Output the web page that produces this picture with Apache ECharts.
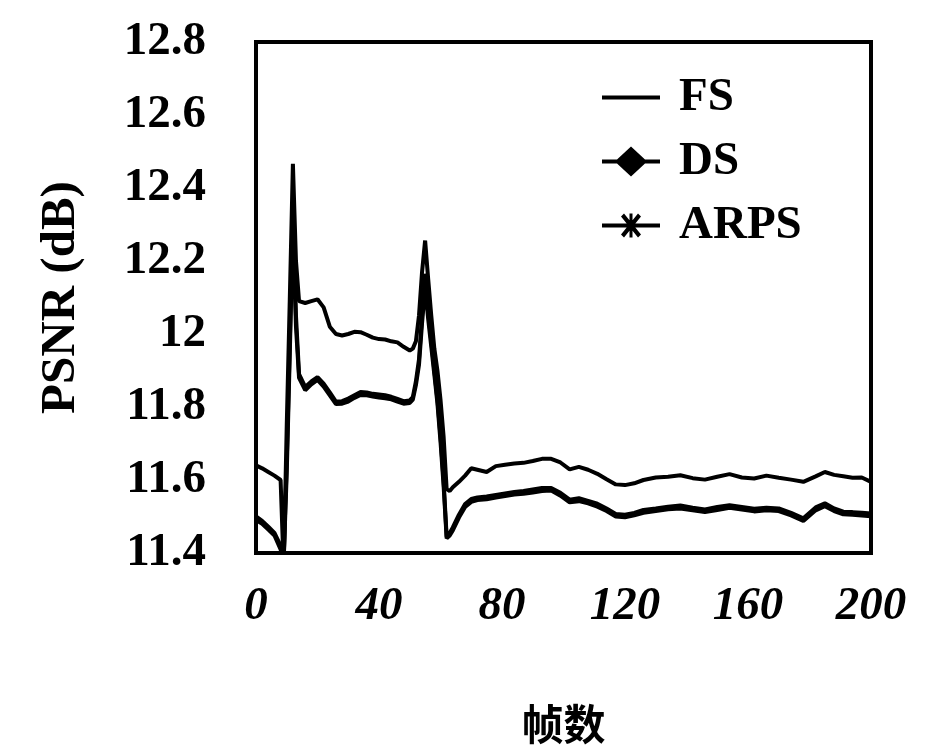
<!DOCTYPE html>
<html>
<head>
<meta charset="utf-8">
<script src="https://cdn.jsdelivr.net/npm/echarts@6/dist/echarts.min.js"></script>
<style>
html,body{margin:0;padding:0;background:#fff;}
#chart{width:925px;height:754px;}
</style>
</head>
<body>
<div id="chart"></div>
<script>
// Frame numbers (x positions of samples)
const frames = [0,2,4,6,8,9,10,11,12,13,14,16,18,20,22,24,26,28,30,32,34,36,38,40,42,44,46,48,50,51,52,53,54,55,56,57,58,59,60,61,62,63,64,66,68,70,72,75,78,81,84,87,90,93,96,99,102,105,108,111,114,117,120,123,126,130,134,138,142,146,150,154,158,162,166,170,174,178,182,185,188,191,194,197,200];

const fsValues = [11.640,11.632,11.622,11.612,11.600,11.360,11.750,12.100,12.466,12.200,12.090,12.085,12.090,12.095,12.073,12.020,12.000,11.996,12.000,12.006,12.005,11.998,11.990,11.986,11.985,11.980,11.977,11.965,11.955,11.960,11.980,12.050,12.170,12.256,12.150,12.050,11.960,11.900,11.820,11.720,11.575,11.570,11.580,11.595,11.612,11.632,11.628,11.622,11.638,11.642,11.645,11.647,11.652,11.658,11.658,11.648,11.629,11.636,11.628,11.617,11.602,11.588,11.586,11.591,11.600,11.607,11.609,11.613,11.605,11.601,11.609,11.616,11.607,11.604,11.612,11.606,11.601,11.595,11.610,11.622,11.614,11.610,11.606,11.607,11.595];

const dsValues = [11.500,11.488,11.472,11.455,11.420,11.385,11.650,11.980,12.330,12.050,11.890,11.855,11.870,11.882,11.864,11.840,11.815,11.816,11.823,11.832,11.841,11.840,11.836,11.834,11.832,11.828,11.822,11.816,11.818,11.827,11.870,11.930,12.050,12.165,12.060,11.980,11.900,11.820,11.720,11.600,11.445,11.455,11.470,11.505,11.534,11.548,11.552,11.555,11.559,11.563,11.567,11.570,11.574,11.578,11.578,11.565,11.546,11.550,11.543,11.535,11.522,11.507,11.505,11.510,11.518,11.522,11.527,11.530,11.524,11.519,11.526,11.531,11.526,11.521,11.524,11.522,11.510,11.495,11.525,11.536,11.522,11.513,11.512,11.510,11.508];

const arpsValues = [11.490,11.480,11.464,11.448,11.410,11.380,11.620,11.950,12.300,12.020,11.880,11.846,11.862,11.874,11.856,11.832,11.808,11.809,11.815,11.825,11.833,11.832,11.829,11.826,11.824,11.821,11.815,11.809,11.811,11.820,11.860,11.915,12.030,12.130,12.040,11.965,11.888,11.810,11.705,11.585,11.440,11.448,11.462,11.497,11.526,11.540,11.545,11.547,11.552,11.556,11.560,11.562,11.566,11.570,11.571,11.557,11.539,11.542,11.536,11.527,11.515,11.500,11.498,11.503,11.510,11.515,11.520,11.522,11.517,11.512,11.518,11.524,11.519,11.514,11.517,11.515,11.503,11.488,11.517,11.528,11.515,11.506,11.505,11.503,11.501];

const seriesNames = ['FS','DS','ARPS'];
const xTicks = {min: 0, max: 200, interval: 40};
const yTicks = {min: 11.4, max: 12.8, interval: 0.2};

function pairs(xs, ys){ return xs.map((x,i)=>[x, ys[i]]); }

const serif = '"Liberation Serif", "DejaVu Serif", serif';

const icons = {
  FS: 'path://M0,13L58,13L58,17L0,17Z',
  DS: 'path://M0,13L15,13L29,0L43,13L58,13L58,17L43,17L29,30L15,17L0,17Z',
  ARPS: 'path://M0,13L58,13L58,17L0,17Z M19,6L22,3L39,24L36,27Z M36,3L39,6L22,27L19,24Z M27.5,3L30.5,3L30.5,27L27.5,27Z'
};

const chart = echarts.init(document.getElementById('chart'), null, {renderer:'canvas'});
const lineStyle = {color:'#000', width:4};
chart.setOption({
  animation: false,
  backgroundColor: '#fff',
  grid: {left: 256, right: 54, top: 42, bottom: 201, show: true, borderColor: '#000', borderWidth: 4, backgroundColor: 'transparent'},
  legend: {
    orient: 'vertical', left: 597, top: 69,
    itemWidth: 58, itemHeight: 30, itemGap: 17,
    textStyle: {fontFamily: serif, fontWeight: 'bold', fontSize: 47, color: '#000', padding: [0,0,0,14]},
    itemStyle: {color: '#000', borderWidth: 0},
    data: seriesNames.map(n => ({name: n, icon: icons[n]}))
  },
  xAxis: {
    type: 'value', min: xTicks.min, max: xTicks.max, interval: xTicks.interval,
    name: '帧数', nameLocation: 'middle', nameGap: 150,
    nameTextStyle: {fontFamily: '"Noto Sans CJK SC", sans-serif', fontWeight: 'bold', fontSize: 42, color: '#000'},
    axisLine: {show: true, lineStyle: {color: '#000', width: 4}},
    axisTick: {show: false},
    splitLine: {show: false},
    axisLabel: {margin: 30, fontFamily: serif, fontWeight: 'bold', fontStyle: 'italic', fontSize: 47, color: '#000'}
  },
  yAxis: {
    type: 'value', min: yTicks.min, max: yTicks.max, interval: yTicks.interval,
    name: 'PSNR (dB)', nameLocation: 'middle', nameGap: 170, nameRotate: 90,
    nameTextStyle: {fontFamily: serif, fontWeight: 'bold', fontSize: 49, color: '#000'},
    axisLine: {show: true, lineStyle: {color: '#000', width: 4}},
    axisTick: {show: false},
    splitLine: {show: false},
    axisLabel: {margin: 50, fontFamily: serif, fontWeight: 'bold', fontSize: 47, color: '#000'}
  },
  series: [
    {name: 'FS', type: 'line', data: pairs(frames, fsValues), showSymbol: false, symbol: 'none', lineStyle: lineStyle, itemStyle: {color:'#000'}, clip: true},
    {name: 'DS', type: 'line', data: pairs(frames, dsValues), showSymbol: false, symbol: 'none', lineStyle: lineStyle, itemStyle: {color:'#000'}, clip: true},
    {name: 'ARPS', type: 'line', data: pairs(frames, arpsValues), showSymbol: false, symbol: 'none', lineStyle: lineStyle, itemStyle: {color:'#000'}, clip: true}
  ]
});
</script>
</body>
</html>
